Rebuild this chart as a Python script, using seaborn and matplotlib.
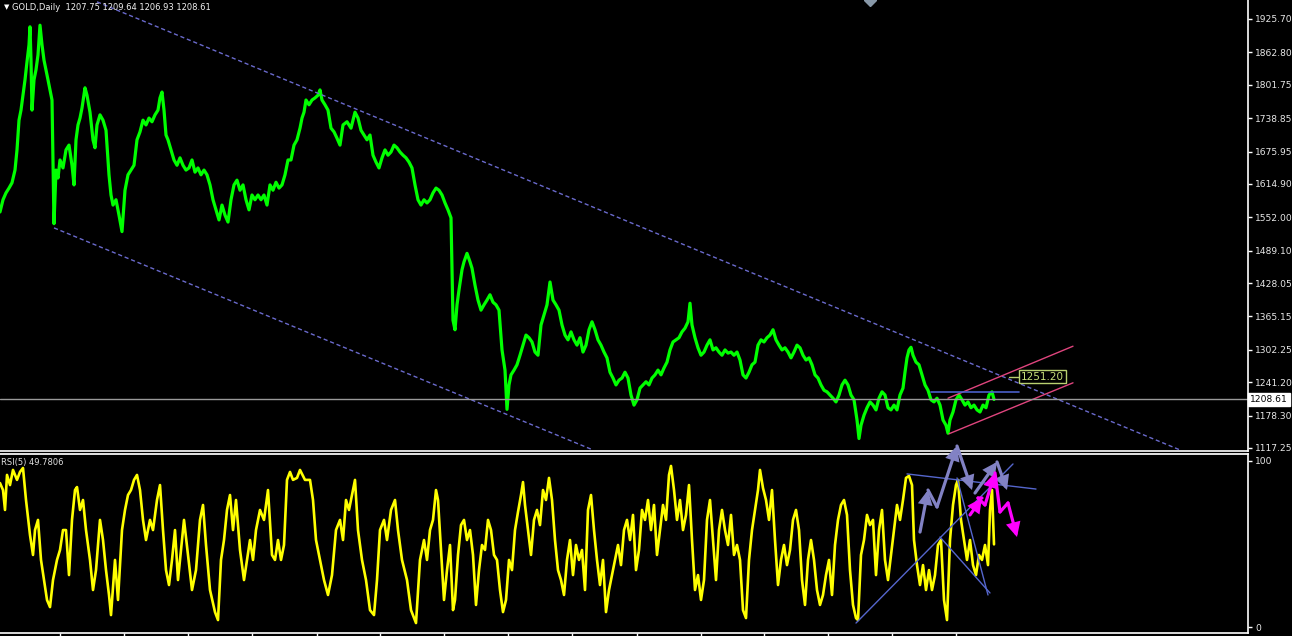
import pandas as pd
import matplotlib
matplotlib.use("Agg")
import matplotlib.pyplot as plt
import seaborn as sns

# --- daily closes (day index, price) ---
price_day = [
    0, 3, 6, 9, 12, 15, 17, 19, 21, 23,
    25, 27, 29, 30, 31, 32, 34, 36, 38, 40,
    42, 44, 46, 48, 50, 52, 54, 56, 58, 60,
    63, 66, 69, 72, 74, 76, 78, 80, 82, 85,
    87, 90, 93, 95, 97, 100, 103, 106, 109, 111,
    113, 116, 119, 122, 125, 128, 131, 134, 137, 140,
    143, 146, 149, 152, 155, 158, 160, 162, 164, 166,
    168, 171, 174, 177, 180, 183, 186, 189, 192, 195,
    198, 201, 204, 207, 210, 213, 216, 219, 222, 225,
    228, 231, 234, 237, 240, 243, 246, 249, 252, 255,
    258, 261, 264, 267, 270, 273, 276, 279, 282, 285,
    288, 291, 294, 297, 300, 302, 304, 306, 309, 312,
    315, 318, 320, 322, 325, 328, 331, 334, 337, 340,
    343, 347, 351, 355, 358, 361, 364, 367, 370, 373,
    376, 379, 382, 385, 388, 391, 394, 397, 400, 403,
    406, 409, 412, 415, 418, 421, 424, 427, 430, 433,
    436, 439, 442, 445, 448, 451, 453, 455, 457, 459,
    462, 464, 467, 470, 472, 475, 478, 481, 484, 487,
    490, 493, 496, 499, 502, 505, 507, 509, 511, 514,
    517, 520, 523, 526, 529, 532, 535, 538, 541, 544,
    547, 550, 553, 556, 559, 562, 565, 568, 571, 574,
    577, 580, 583, 586, 589, 592, 595, 598, 601, 604,
    607, 610, 613, 616, 619, 622, 625, 628, 631, 634,
    637, 640, 643, 646, 649, 652, 655, 658, 661, 664,
    667, 670, 673, 676, 679, 682, 685, 688, 690, 692,
    695, 698, 701, 704, 707, 710, 713, 716, 719, 722,
    725, 728, 731, 734, 737, 740, 743, 746, 749, 752,
    755, 758, 761, 764, 767, 770, 773, 776, 779, 782,
    785, 788, 791, 794, 797, 800, 803, 806, 809, 812,
    815, 818, 821, 824, 827, 830, 833, 836, 839, 842,
    845, 848, 851, 854, 857, 859, 861, 864, 867, 870,
    873, 876, 879, 882, 885, 888, 891, 894, 897, 900,
    903, 905, 907, 909, 911, 913, 916, 919, 922, 925,
    928, 931, 934, 937, 940, 943, 946, 948, 950, 953,
    956, 959, 962, 965, 968, 971, 974, 977, 980, 983,
    986, 989, 992, 994,
]
price_close = [
    1562, 1585, 1598, 1607, 1617, 1641, 1679, 1735, 1754, 1782,
    1811, 1845, 1877, 1911, 1848, 1754, 1811, 1830, 1858, 1914,
    1877, 1848, 1830, 1811, 1792, 1773, 1540, 1641, 1626, 1660,
    1645, 1679, 1688, 1650, 1613, 1698, 1726, 1739, 1758, 1796,
    1782, 1750, 1698, 1683, 1726, 1745, 1735, 1716, 1632, 1594,
    1575, 1585, 1556, 1525, 1603, 1632, 1641, 1650, 1698, 1713,
    1735, 1726, 1739, 1732, 1745, 1754, 1777, 1788, 1754, 1707,
    1698, 1679, 1660, 1650, 1664, 1650, 1641, 1645, 1660, 1637,
    1645, 1632, 1641, 1632, 1613, 1585, 1566, 1547, 1575, 1556,
    1543, 1585, 1613, 1622, 1603, 1613, 1585, 1566, 1594, 1585,
    1594, 1585, 1594, 1575, 1613, 1603, 1618, 1607, 1613, 1632,
    1660, 1660, 1688, 1698, 1720, 1739, 1750, 1773, 1764, 1773,
    1777, 1782, 1792, 1773, 1764, 1754, 1720, 1713, 1701, 1688,
    1726, 1732, 1720, 1750, 1739, 1716, 1707, 1698, 1707, 1669,
    1656, 1645, 1664, 1679, 1669, 1675, 1688, 1683, 1675, 1669,
    1664, 1656, 1645, 1613, 1585, 1575, 1585, 1579, 1585, 1598,
    1607, 1603, 1594, 1579, 1566, 1551, 1358, 1340, 1387, 1415,
    1453, 1468, 1484, 1468, 1456, 1424, 1396, 1377, 1387, 1396,
    1406, 1392, 1387, 1377, 1302, 1264, 1190, 1236, 1255, 1264,
    1274, 1292, 1311, 1330, 1325, 1317, 1298, 1292, 1349, 1368,
    1387, 1430, 1396, 1387, 1377, 1349, 1330, 1321, 1336, 1321,
    1311, 1325, 1298, 1311, 1340, 1355, 1340, 1321, 1311, 1298,
    1287, 1260, 1249, 1236, 1245, 1249, 1260, 1249, 1217, 1198,
    1208, 1230, 1236, 1242, 1236, 1249, 1255, 1264, 1255, 1268,
    1279, 1302, 1317, 1321, 1325, 1336, 1343, 1355, 1390, 1349,
    1325, 1306, 1292, 1298, 1311, 1321, 1302, 1306, 1298, 1292,
    1302, 1296, 1298, 1292, 1298, 1283, 1255, 1249, 1260, 1274,
    1279, 1311, 1321, 1317, 1325, 1330, 1340, 1321, 1311, 1302,
    1306, 1298, 1287, 1298, 1311, 1306, 1292, 1283, 1287, 1274,
    1255, 1249, 1236, 1226, 1223, 1217, 1211, 1204, 1217, 1236,
    1245, 1236, 1217, 1208, 1170, 1135, 1160, 1179, 1193, 1204,
    1198, 1189, 1211, 1223, 1217, 1193, 1189, 1198, 1189, 1217,
    1230, 1260, 1287, 1302, 1307, 1292, 1279, 1274, 1255, 1236,
    1226, 1208, 1204, 1211, 1198, 1170, 1160, 1145, 1170, 1185,
    1208, 1217, 1208, 1198, 1204, 1193, 1198, 1189, 1185, 1198,
    1193, 1217, 1223, 1208.61,
]

# --- RSI(5) ---
rsi_day = [
    0, 3, 5, 7, 10, 13, 17, 20, 23, 26,
    30, 33, 35, 38, 41, 44, 47, 50, 53, 57,
    60, 63, 66, 69, 72, 75, 77, 80, 83, 86,
    90, 93, 96, 100, 103, 106, 109, 111, 115, 118,
    122, 125, 128, 131, 134, 137, 140, 143, 146, 150,
    153, 157, 160, 163, 166, 169, 172, 175, 178, 181,
    184, 188, 192, 196, 200, 203, 206, 210, 215, 218,
    221, 224, 227, 230, 233, 236, 240, 244, 247, 250,
    253, 256, 260, 264, 268, 272, 275, 278, 281, 284,
    287, 290, 293, 297, 300, 305, 310, 313, 316, 320,
    324, 328, 332, 336, 340, 343, 346, 349, 352, 355,
    358, 362, 366, 370, 374, 377, 380, 384, 387, 391,
    395, 398, 402, 407, 411, 416, 420, 424, 427, 430,
    433, 436, 438, 441, 444, 447, 450, 453, 455, 458,
    461, 464, 467, 470, 473, 476, 479, 482, 485, 488,
    491, 494, 497, 500, 503, 506, 509, 512, 515, 518,
    521, 523, 525, 528, 531, 534, 537, 540, 543, 546,
    549, 552, 555, 558, 561, 564, 567, 570, 573, 576,
    579, 582, 585, 588, 591, 594, 597, 600, 603, 606,
    609, 612, 615, 618, 621, 624, 627, 630, 633, 636,
    639, 642, 645, 648, 651, 654, 657, 660, 663, 666,
    669, 671, 674, 677, 680, 683, 686, 689, 692, 695,
    698, 701, 704, 707, 710, 713, 716, 719, 722, 725,
    728, 731, 734, 737, 740, 743, 746, 749, 752, 755,
    758, 760, 763, 766, 769, 772, 775, 778, 781, 784,
    787, 790, 793, 796, 799, 802, 805, 808, 811, 814,
    817, 820, 823, 826, 829, 832, 835, 838, 841, 844,
    847, 850, 853, 856, 858, 861, 864, 867, 870, 873,
    876, 879, 882, 885, 888, 891, 894, 897, 900, 903,
    906, 909, 912, 914, 917, 920, 923, 926, 929, 932,
    935, 938, 941, 944, 947, 950, 953, 956, 958, 961,
    964, 967, 970, 973, 976, 979, 982, 985, 988, 990,
    992, 994,
]
rsi_value = [
    86.7, 82.5, 70.5, 91.6, 85.5, 94.6, 88.6, 93.4, 95.8, 76.5,
    55.4, 43.4, 58.4, 64.5, 40.4, 28.3, 16.3, 12.0, 28.3, 40.4,
    46.4, 58.4, 58.4, 31.3, 64.5, 82.5, 84.3, 70.5, 76.5, 58.4,
    40.4, 22.3, 34.3, 64.5, 52.4, 34.3, 19.3, 7.2, 40.4, 16.3,
    58.4, 70.5, 79.5, 82.5, 88.6, 91.6, 82.5, 64.5, 52.4, 64.5,
    58.4, 76.5, 85.5, 58.4, 34.3, 25.3, 40.4, 58.4, 28.3, 46.4,
    64.5, 43.4, 22.3, 34.3, 64.5, 73.5, 49.4, 22.3, 9.0, 4.2,
    40.4, 52.4, 70.5, 79.5, 58.4, 76.5, 46.4, 28.3, 40.4, 52.4,
    40.4, 58.4, 70.5, 64.5, 82.5, 43.4, 40.4, 52.4, 40.4, 49.4,
    88.6, 93.4, 88.6, 89.8, 94.6, 88.6, 88.6, 76.5, 52.4, 40.4,
    28.3, 19.3, 31.3, 58.4, 64.5, 52.4, 76.5, 70.5, 79.5, 88.6,
    58.4, 40.4, 28.3, 10.2, 7.2, 28.3, 58.4, 64.5, 52.4, 70.5,
    76.5, 58.4, 40.4, 28.3, 10.2, 2.4, 40.4, 52.4, 40.4, 58.4,
    64.5, 82.5, 76.5, 46.4, 16.3, 34.3, 49.4, 10.2, 16.3, 43.4,
    61.4, 64.5, 52.4, 58.4, 43.4, 13.3, 34.3, 49.4, 46.4, 64.5,
    58.4, 43.4, 40.4, 22.3, 9.0, 16.3, 40.4, 34.3, 58.4, 69.3,
    79.5, 87.3, 73.5, 58.4, 43.4, 64.5, 70.5, 61.4, 82.5, 76.5,
    89.8, 76.5, 52.4, 34.3, 28.3, 19.3, 40.4, 52.4, 31.3, 49.4,
    40.4, 46.4, 22.3, 70.5, 79.5, 58.4, 40.4, 25.3, 40.4, 9.0,
    22.3, 31.3, 40.4, 49.4, 37.3, 58.4, 64.5, 52.4, 67.5, 34.3,
    46.4, 70.5, 64.5, 76.5, 58.4, 73.5, 43.4, 58.4, 73.5, 64.5,
    91.6, 97.0, 82.5, 64.5, 76.5, 58.4, 67.5, 85.5, 52.4, 22.3,
    31.3, 16.3, 28.3, 64.5, 76.5, 52.4, 28.3, 58.4, 70.5, 58.4,
    49.4, 67.5, 43.4, 49.4, 40.4, 10.2, 5.4, 40.4, 58.4, 70.5,
    82.5, 94.6, 83.7, 76.5, 64.5, 82.5, 52.4, 25.3, 40.4, 49.4,
    37.3, 46.4, 64.5, 70.5, 58.4, 28.3, 13.3, 40.4, 52.4, 40.4,
    22.3, 13.3, 19.3, 31.3, 40.4, 19.3, 49.4, 64.5, 73.5, 76.5,
    67.5, 34.3, 13.3, 5.4, 4.2, 43.4, 52.4, 67.5, 61.4, 64.5,
    31.3, 58.4, 70.5, 40.4, 28.3, 43.4, 58.4, 73.5, 64.5, 76.5,
    89.8, 91.0, 85.5, 52.4, 37.3, 25.3, 37.3, 22.3, 34.3, 22.3,
    31.3, 49.4, 52.4, 16.3, 4.2, 52.4, 73.5, 85.5, 88.6, 64.5,
    52.4, 40.4, 52.4, 37.3, 31.3, 43.4, 40.4, 49.4, 37.3, 70.5,
    82.5, 49.78,
]

price_ticks = [1925.70, 1862.80, 1801.75, 1738.85, 1675.95, 1614.90, 1552.00,
               1489.10, 1428.05, 1365.15, 1302.25, 1241.20, 1178.30, 1117.25]
last_price = 1208.61
header_text = "GOLD,Daily  1207.75 1209.64 1206.93 1208.61"
rsi_header = "RSI(5) 49.7806"
time_ticks = [60, 124, 188, 252, 317, 380, 444, 508, 572, 637, 701, 764, 828, 892, 956]

# hand-drawn objects on the chart (day, price)
down_upper = ([97, 1180], [1958, 1113.5])
down_lower = ([54, 593], [1532, 1113.5])
pink_upper = ([948, 1073], [1211, 1309])
pink_lower = ([949, 1073], [1144, 1240])
blue_level = ([931, 1019], [1222.7, 1222.7])
price_label = 1251.20

# hand-drawn objects on the RSI window (day, rsi)
rsi_lines = [
    ([907, 1036], [92.2, 83.1]),
    ([856, 1013], [2.4, 98.2]),
    ([940, 990], [54.2, 20.5]),
    ([957, 988], [89.8, 19.3]),
]
purple_path = [(920, 57.2), (928, 82.5), (937, 72.3), (957, 109.0), (972, 82.5)]
purple_heads = [1, 3, 4]
purple_path2 = [(975, 80.7), (997, 99.4), (1007, 82.5)]
purple_heads2 = [1, 2]
magenta_path = [(970, 67.5), (982, 77.7), (978, 77.7), (985, 73.5), (995, 92.8),
                (1000, 69.3), (1008, 74.7), (1017, 54.2)]
magenta_heads = [1, 4, 7]

sns.set_theme(style="dark", rc={
    "axes.facecolor": "black",
    "figure.facecolor": "black",
    "savefig.facecolor": "black",
    "axes.grid": False,
})
plt.rcParams["font.family"] = ["DejaVu Sans"]

fig = plt.figure(figsize=(12.92, 6.36), dpi=100)
ax = fig.add_axes([0, 1 - 451 / 636, 1248 / 1292, 451 / 636])
ax_rsi = fig.add_axes([0, 3 / 636, 1248 / 1292, (633 - 454) / 636])

price_df = pd.DataFrame({"day": price_day, "close": price_close})
rsi_df = pd.DataFrame({"day": rsi_day, "rsi": rsi_value})

sns.lineplot(data=price_df, x="day", y="close", ax=ax, color="#00ff00",
             lw=2.3, estimator=None, sort=False)
sns.lineplot(data=rsi_df, x="day", y="rsi", ax=ax_rsi, color="#ffff00",
             lw=1.9, estimator=None, sort=False)

for a in (ax, ax_rsi):
    a.set_xlim(0, 1248)
    a.set_xlabel("")
    a.set_ylabel("")
    for s in ("left", "top"):
        a.spines[s].set_visible(False)
    for s in ("right", "bottom"):
        a.spines[s].set_color("white")
        a.spines[s].set_linewidth(1.2)
    a.yaxis.tick_right()
    a.tick_params(axis="y", colors="white", labelcolor="#e8e8e8", length=3,
                  width=1, pad=2, labelsize=6.6, direction="out", right=True, left=False)

ax.set_ylim(1111.5, 1961.5)
ax.set_yticks(price_ticks)
ax.set_yticklabels([f"{t:.2f}" for t in price_ticks])
ax.set_xticks([])

ax_rsi.set_ylim(-3.6, 104.2)
ax_rsi.set_yticks([0, 100])
ax_rsi.set_yticklabels(["0", "100"])
ax_rsi.spines["top"].set_visible(True)
ax_rsi.spines["top"].set_color("white")
ax_rsi.set_xticks(time_ticks)
ax_rsi.tick_params(axis="x", colors="white", length=4, width=1, direction="out",
                   labelbottom=False, bottom=True)

# channel lines
dash = (0, (3, 2))
ax.plot(*down_upper, color="#6a6acc", lw=1, ls=dash)
ax.plot(*down_lower, color="#6a6acc", lw=1, ls=dash)
ax.plot(*pink_upper, color="#e0457e", lw=1)
ax.plot(*pink_lower, color="#e0457e", lw=1)
ax.plot(*blue_level, color="#4a5ec8", lw=1.2)
ax.axhline(last_price, color="#9a9a9a", lw=1)

ax.plot([1009, 1019], [price_label, price_label], color="#b8d070", lw=1)
ax.text(1021, price_label, f"{price_label:.2f}", color="#c8e07a", fontsize=7.5,
        va="center", ha="left",
        bbox=dict(boxstyle="square,pad=0.15", fc="black", ec="#b8d070", lw=1))

ax.plot([870], [1961.5], marker="D", ms=6, color="#8898a8", clip_on=True)

# current price box on the scale
ax.text(1.0016, last_price, f"{last_price:.2f}", transform=ax.get_yaxis_transform(),
        color="black", fontsize=6.6, va="center", ha="left", clip_on=False,
        bbox=dict(boxstyle="square,pad=0.25", fc="white", ec="white"))

fig.text(4 / 1292, 1 - 7 / 636, "\u25bc", color="white", fontsize=5, va="center")
fig.text(12 / 1292, 1 - 8 / 636, header_text, color="#f0f0f0", fontsize=6.0, va="center")
fig.text(1 / 1292, 1 - 462 / 636, rsi_header, color="#e0e0e0", fontsize=6.0, va="center")

# RSI window drawings
for xs, ys in rsi_lines:
    ax_rsi.plot(xs, ys, color="#5566cc", lw=1)


def draw_path(path, heads, color):
    for i in range(1, len(path)):
        style = "-|>,head_length=0.7,head_width=0.35" if i in heads else "-"
        ax_rsi.annotate("", xy=path[i], xytext=path[i - 1], annotation_clip=False,
                        arrowprops=dict(arrowstyle=style, color=color, lw=2.3,
                                        shrinkA=0, shrinkB=0, mutation_scale=10,
                                        joinstyle="miter", clip_on=False))


draw_path(purple_path, purple_heads, "#8282c4")
draw_path(purple_path2, purple_heads2, "#8282c4")
draw_path(magenta_path, magenta_heads, "#ff00ff")

fig.savefig("out.png", dpi=100, facecolor="black")
